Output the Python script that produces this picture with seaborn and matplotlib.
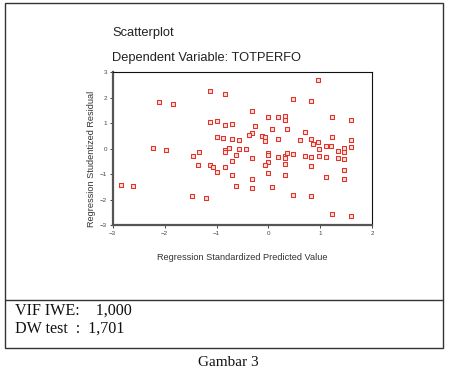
import pandas as pd
import seaborn as sns
import matplotlib.pyplot as plt
from matplotlib.patches import Rectangle
from matplotlib.lines import Line2D

# ================= DATA =================
# (standardized predicted value, studentized residual)
pred_x = [-2.84, -2.61, -2.11, -1.84, -2.23, -1.97, -1.12, -0.83, -1.12, -0.99,
          -0.83, -0.99, -0.88, -0.83, -0.83, -0.76, -1.34, -1.46, -1.35, -1.12,
          -1.07, -0.83, -0.99, -1.48, -1.21,
          0.95, 0.48, 0.82, -0.31, -0.01, 0.19, 0.32, 0.32, 1.23, 1.59,
          -0.70, -0.26, 0.07, 0.36, 0.70, -0.31, -0.38, -0.13, -0.06, -0.06,
          -0.70, -0.57, 0.19, 0.61, 0.82, 0.86, 0.95, 1.23, 1.59, 1.59,
          1.11, 1.21, 0.98, 1.34, 1.46, 1.46, 1.46, 1.34, -0.57, -0.44,
          -0.01, -0.01, -0.62, -0.31, 0.19, 0.32, 0.32, 0.36, 0.48, 0.70,
          0.82, 0.98, 1.11, -0.70, -0.01, -0.06, 0.32, 0.82, 1.46, -0.01,
          -0.70, 0.32, 1.11, -0.31, 1.46, -0.62, -0.31, 0.07, 0.48, 0.82,
          1.23, 1.59]
resid_y = [-1.41, -1.45, 1.84, 1.77, 0.03, -0.05, 2.25, 2.16, 1.04, 1.09,
           0.93, 0.46, 0.43, -0.05, -0.12, 0.04, -0.13, -0.27, -0.65, -0.63,
           -0.73, -0.71, -0.93, -1.85, -1.93,
           2.71, 1.96, 1.87, 1.49, 1.26, 1.26, 1.28, 1.13, 1.26, 1.14,
           0.98, 0.88, 0.77, 0.77, 0.67, 0.63, 0.55, 0.50, 0.46, 0.29,
           0.39, 0.34, 0.39, 0.35, 0.39, 0.20, 0.28, 0.46, 0.34, 0.08,
           0.12, 0.11, 0.00, -0.09, 0.03, -0.13, -0.39, -0.37, 0.00, -0.03,
           -0.16, -0.25, -0.23, -0.35, -0.31, -0.27, -0.35, -0.18, -0.21, -0.27,
           -0.31, -0.27, -0.31, -0.50, -0.51, -0.65, -0.60, -0.67, -0.82, -0.94,
           -1.02, -1.05, -1.10, -1.19, -1.19, -1.45, -1.53, -1.49, -1.81, -1.87,
           -2.55, -2.63]

x_ticks = [-3, -2, -1, 0, 1, 2]
y_ticks = [-3, -2, -1, 0, 1, 2, 3]

title_lines = ["Scatterplot", "Dependent Variable: TOTPERFO"]
stat_lines = ["VIF IWE:    1,000", "DW test  :  1,701"]
caption = "Gambar 3"


def main():
    df = pd.DataFrame({"pred": pred_x, "resid": resid_y})

    sns.set_style("white")
    plt.rcParams['font.family'] = ['Liberation Sans', 'DejaVu Sans']

    fig = plt.figure(figsize=(4.51, 3.70), dpi=100)
    W, H = 451, 370

    def fx(px):
        return px / W

    def fy(py):
        return 1 - py / H

    ax = fig.add_axes([fx(112.7), fy(225), fx(372.3) - fx(112.7), fy(72.3) - fy(225)])

    sns.scatterplot(data=df, x="pred", y="resid", marker="s", s=10,
                    facecolor="#fcdcd8", edgecolor="#e0322a", linewidth=0.75,
                    ax=ax, legend=False)

    ax.set_xlim(-3, 2)
    ax.set_ylim(-3, 3)
    ax.set_xticks(x_ticks)
    ax.set_yticks(y_ticks)
    ax.tick_params(axis='both', labelsize=4.5, labelcolor='#444444',
                   length=2.5, width=0.7, direction='out', color='#444444', pad=1.5)
    ax.tick_params(axis='x', bottom=True)
    ax.tick_params(axis='y', left=True)
    ax.set_xlabel("")
    ax.set_ylabel("")
    for side in ['left', 'bottom']:
        ax.spines[side].set_linewidth(1.6)
        ax.spines[side].set_color('#555555')
    for side in ['top', 'right']:
        ax.spines[side].set_linewidth(0.8)
        ax.spines[side].set_color('#111111')

    # axis titles
    fig.text(fx(242.5), fy(258), "Regression Standardized Predicted Value",
             fontsize=6.6, color='#333333', ha='center', va='center')
    fig.text(fx(91), fy(159), "Regression Studentized Residual",
             fontsize=6.6, color='#333333', ha='center', va='center', rotation=90)

    # chart titles
    fig.text(fx(112), fy(33), title_lines[0], fontsize=9.3, color='#222222',
             ha='left', va='center')
    fig.text(fx(112), fy(58), title_lines[1], fontsize=9.3, color='#222222',
             ha='left', va='center')

    # frame around chart and stats
    fig.patches.append(Rectangle((fx(5), fy(348)), fx(443) - fx(5), fy(3) - fy(348),
                                 transform=fig.transFigure, fill=False,
                                 edgecolor='#333333', linewidth=1.0))
    fig.lines.append(Line2D([fx(5), fx(443)], [fy(300), fy(300)],
                            transform=fig.transFigure, color='#333333', linewidth=1.0))

    # stats
    fig.text(fx(15), fy(311), stat_lines[0], fontsize=11.6, family=['Liberation Serif'],
             ha='left', va='center', color='#111111')
    fig.text(fx(15), fy(329), stat_lines[1], fontsize=11.6, family=['Liberation Serif'],
             ha='left', va='center', color='#111111')

    # caption below the box, kept inside the picture
    fig.text(fx(228), fy(369), caption, fontsize=11, family=['Liberation Serif'],
             ha='center', va='bottom', color='#111111')

    fig.savefig("out.png", dpi=100)


if __name__ == "__main__":
    main()
